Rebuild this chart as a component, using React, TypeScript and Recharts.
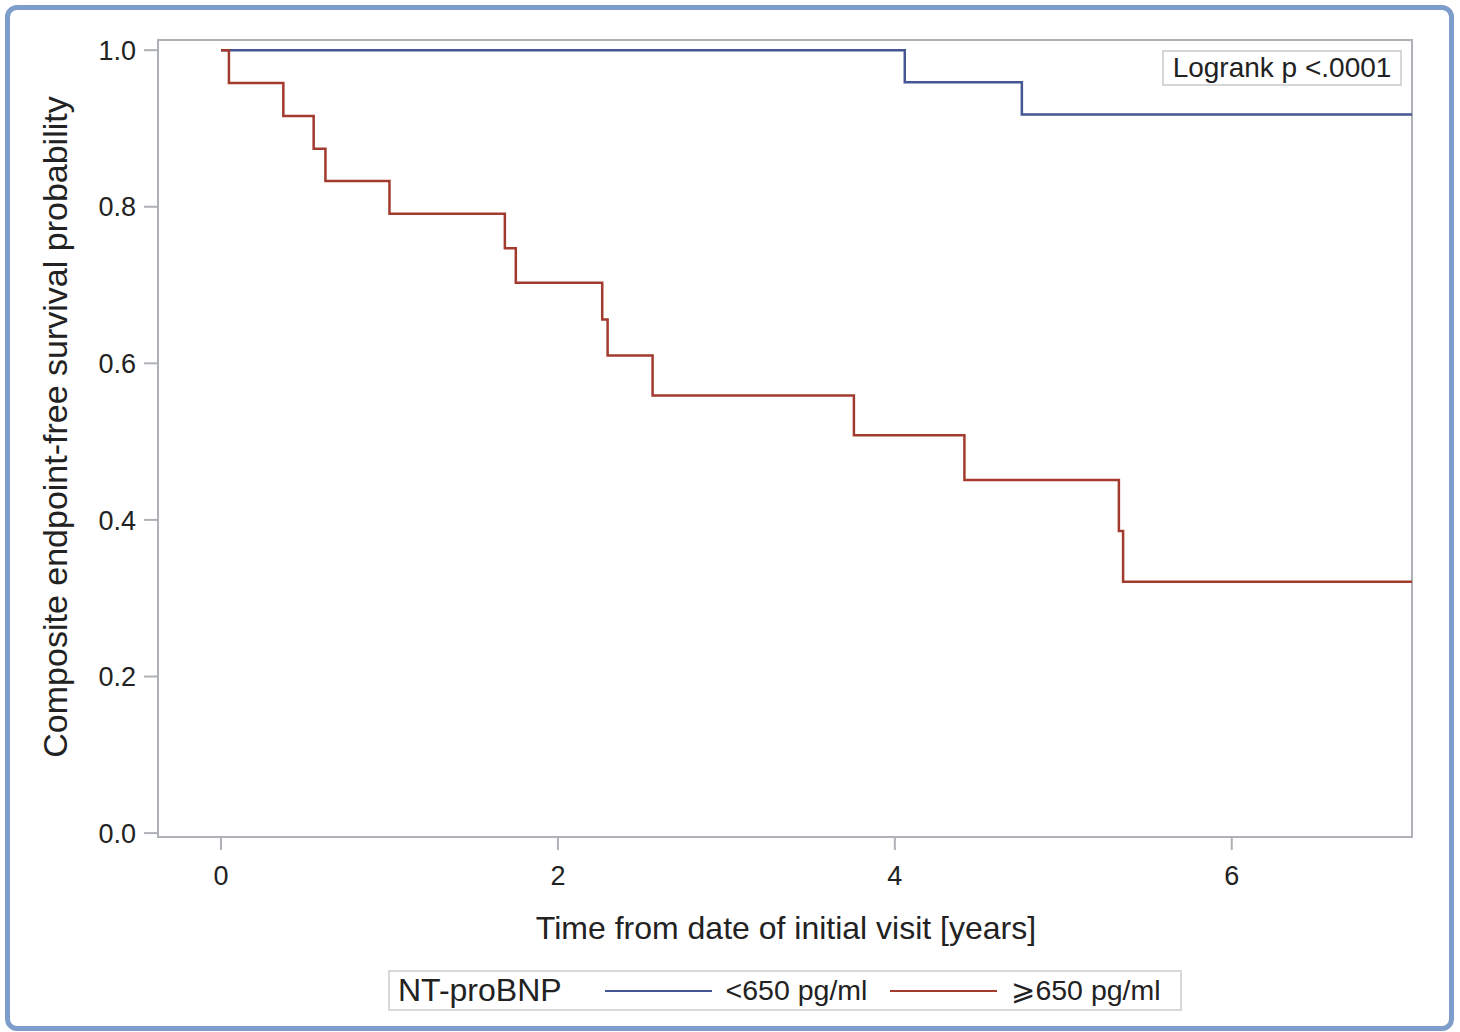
import React from 'react';
import { LineChart, Line, XAxis, YAxis, ReferenceArea } from 'recharts';

// Kaplan-Meier step points (time in years, survival probability)
const lowTimes = [0, 4.059, 4.754, 7.07];
const lowSurv = [1.0, 0.959, 0.918, 0.918];

const highTimes = [0, 0.047, 0.37, 0.55, 0.62, 1.0, 1.685, 1.75, 2.263, 2.295, 2.562, 3.757, 4.413, 5.33, 5.355, 7.07];
const highSurv = [1.0, 0.958, 0.916, 0.874, 0.833, 0.791, 0.747, 0.703, 0.656, 0.61, 0.559, 0.508, 0.451, 0.386, 0.321, 0.321];

const xTicks = [0, 2, 4, 6];
const yTicks = [0, 0.2, 0.4, 0.6, 0.8, 1.0];

const seriesNames = ['<650 pg/ml', '⩾650 pg/ml'];
const seriesColors = ['#445694', '#a23a2e'];

const X_DOMAIN = [-0.374, 7.07];
const Y_DOMAIN = [-0.005, 1.013];

const toPoints = (times: number[], surv: number[]) => times.map((t, i) => ({ t, s: surv[i] }));
const lowData = toPoints(lowTimes, lowSurv);
const highData = toPoints(highTimes, highSurv);

const FONT = '"Liberation Sans", Arial, sans-serif';
const AXIS_GRAY = '#aeb2b6';
const TEXT = '#222';

const YLabel = () => (
  <text
    x={55}
    y={427}
    transform="rotate(-90 55 427)"
    textAnchor="middle"
    dominantBaseline="central"
    fontSize={34}
    fill={TEXT}
    fontFamily={FONT}
  >
    Composite endpoint-free survival probability
  </text>
);

const XLabel = () => (
  <text x={786} y={939} textAnchor="middle" fontSize={32} fill={TEXT} fontFamily={FONT}>
    Time from date of initial visit [years]
  </text>
);

const LegendLine = ({ color }: { color: string }) => (
  <span style={{ display: 'inline-block', width: 107, height: 0, borderTop: `2px solid ${color}`, margin: '0 14px 0 0' }} />
);

const App: React.FC = () => {
  return (
    <div style={{ position: 'absolute', left: 0, top: 0, width: 1460, height: 1032, fontFamily: FONT, background: '#fff' }}>
      <div
        style={{
          position: 'absolute',
          left: 5,
          top: 5,
          width: 1449,
          height: 1026,
          boxSizing: 'border-box',
          border: '5px solid #7d9dca',
          borderRadius: 12,
        }}
      />
      <div style={{ position: 'absolute', left: 0, top: 0 }}>
        <LineChart width={1460} height={1032} margin={{ top: 40, right: 48, bottom: 135, left: 58 }}>
          <XAxis
            dataKey="t"
            type="number"
            domain={X_DOMAIN}
            allowDataOverflow
            ticks={xTicks}
            tickSize={13}
            tickMargin={16}
            height={60}
            axisLine={{ stroke: AXIS_GRAY, strokeWidth: 2 }}
            tickLine={{ stroke: AXIS_GRAY, strokeWidth: 2 }}
            tick={{ fontSize: 27, fill: TEXT, fontFamily: FONT }}
            label={<XLabel />}
          />
          <YAxis
            dataKey="s"
            type="number"
            domain={Y_DOMAIN}
            allowDataOverflow
            ticks={yTicks}
            tickFormatter={(v: number) => v.toFixed(1)}
            width={100}
            tickSize={14}
            tickMargin={8}
            axisLine={{ stroke: AXIS_GRAY, strokeWidth: 2 }}
            tickLine={{ stroke: AXIS_GRAY, strokeWidth: 2 }}
            tick={{ fontSize: 27, fill: TEXT, fontFamily: FONT }}
            label={<YLabel />}
          />
          <ReferenceArea
            x1={X_DOMAIN[0]}
            x2={X_DOMAIN[1]}
            y1={Y_DOMAIN[0]}
            y2={Y_DOMAIN[1]}
            fill="none"
            stroke={AXIS_GRAY}
            strokeWidth={2}
            ifOverflow="visible"
          />
          <Line
            data={lowData}
            dataKey="s"
            type="stepAfter"
            stroke={seriesColors[0]}
            strokeWidth={2.5}
            dot={false}
            isAnimationActive={false}
          />
          <Line
            data={highData}
            dataKey="s"
            type="stepAfter"
            stroke={seriesColors[1]}
            strokeWidth={2.5}
            dot={false}
            isAnimationActive={false}
          />
        </LineChart>
      </div>

      {/* p-value box */}
      <div
        style={{
          position: 'absolute',
          left: 1162,
          top: 50,
          width: 240,
          height: 36,
          boxSizing: 'border-box',
          border: '2px solid #d6d6d6',
          fontSize: 28,
          color: TEXT,
          display: 'flex',
          alignItems: 'center',
          justifyContent: 'center',
          background: '#fff',
        }}
      >
        Logrank p &lt;.0001
      </div>

      {/* legend */}
      <div
        style={{
          position: 'absolute',
          left: 388,
          top: 970,
          width: 794,
          height: 41,
          boxSizing: 'border-box',
          border: '2px solid #d9d9d9',
          display: 'flex',
          alignItems: 'center',
          paddingLeft: 8,
          color: TEXT,
          whiteSpace: 'nowrap',
        }}
      >
        <span style={{ fontSize: 32, marginRight: 43 }}>NT-proBNP</span>
        <LegendLine color={seriesColors[0]} />
        <span style={{ fontSize: 28.5, marginRight: 23 }}>{seriesNames[0]}</span>
        <LegendLine color={seriesColors[1]} />
        <span style={{ fontSize: 28.5 }}>{seriesNames[1]}</span>
      </div>
    </div>
  );
};

export default App;
